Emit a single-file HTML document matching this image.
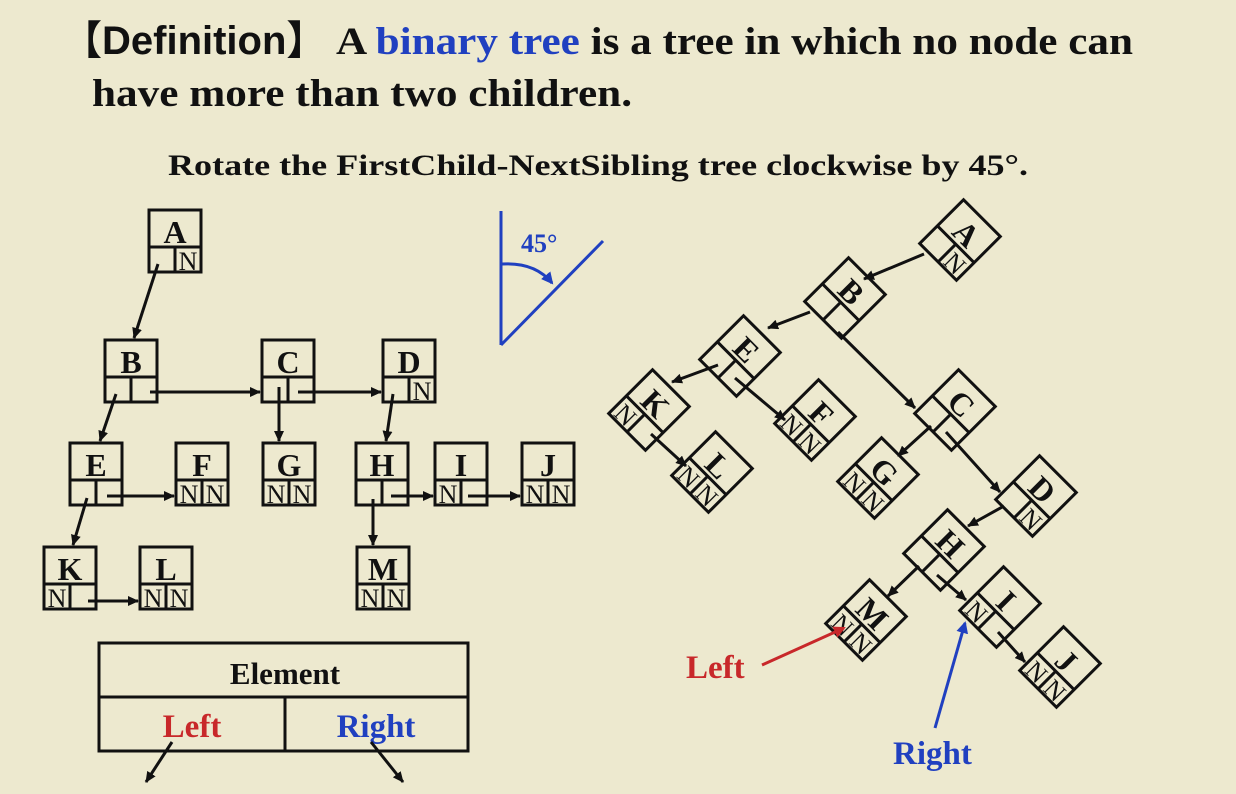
<!DOCTYPE html>
<html><head><meta charset="utf-8"><style>
html,body{margin:0;padding:0;background:#EDE9CF;}
svg{display:block;font-family:"Liberation Serif","Times New Roman",Times,serif;}
</style></head><body>
<svg width="1236" height="794" viewBox="0 0 1236 794" xmlns="http://www.w3.org/2000/svg" font-family="Liberation Serif, Times New Roman, serif">
<defs>
<marker id="ah" markerWidth="11" markerHeight="10" refX="10" refY="5" orient="auto" markerUnits="userSpaceOnUse" viewBox="0 0 11 10"><path d="M0,0 L11,5 L0,10 Z" fill="#111"/></marker>
<marker id="ahr" markerWidth="12" markerHeight="12" refX="10" refY="6" orient="auto" markerUnits="userSpaceOnUse" viewBox="0 0 12 12"><path d="M0,0 L12,6 L0,12 Z" fill="#C8282A"/></marker>
<marker id="ahb" markerWidth="12" markerHeight="12" refX="10" refY="6" orient="auto" markerUnits="userSpaceOnUse" viewBox="0 0 12 12"><path d="M0,0 L12,6 L0,12 Z" fill="#2040C0"/></marker>
<g id="nd"><rect x="0" y="0" width="52" height="62" fill="none" stroke="#111" stroke-width="3"/><line x1="0" y1="37" x2="52" y2="37" stroke="#111" stroke-width="3"/><line x1="26" y1="37" x2="26" y2="62" stroke="#111" stroke-width="3"/></g>
</defs>
<rect width="1236" height="794" fill="#EDE9CF"/>
<!-- Title -->
<text x="62" y="54" font-size="40" font-weight="bold" fill="#111"><tspan font-family="Noto Sans CJK SC,sans-serif">【</tspan><tspan font-family="Liberation Sans,Arial,sans-serif">Definition</tspan><tspan font-family="Noto Sans CJK SC,sans-serif">】</tspan></text>
<text x="336" y="54" font-size="39" font-weight="bold" fill="#111" textLength="797" lengthAdjust="spacingAndGlyphs">A <tspan fill="#2040C0">binary tree</tspan> is a tree in which no node can</text>
<text x="92" y="106" font-size="39" font-weight="bold" fill="#111" textLength="540" lengthAdjust="spacingAndGlyphs">have more than two children.</text>
<text x="168" y="175" font-size="30" font-weight="bold" fill="#111" textLength="860" lengthAdjust="spacingAndGlyphs">Rotate the FirstChild-NextSibling tree clockwise by 45°.</text>
<!-- 45 deg -->
<g stroke="#2040C0" stroke-width="3" fill="none">
<line x1="501" y1="211" x2="501" y2="345"/>
<line x1="501" y1="345" x2="603" y2="241"/>
<path d="M502,264 Q535,262 552,283" marker-end="url(#ahb)"/>
</g>
<text x="521" y="252" font-size="26" font-weight="bold" fill="#2040C0">45°</text>
<!-- Left tree nodes -->
<g font-size="32" font-weight="bold" text-anchor="middle" fill="#111">
<g transform="translate(149,210)"><use href="#nd"/><text x="26" y="33">A</text><text x="39" y="60" font-size="26" font-weight="normal">N</text></g>
<g transform="translate(105,340)"><use href="#nd"/><text x="26" y="33">B</text></g>
<g transform="translate(262,340)"><use href="#nd"/><text x="26" y="33">C</text></g>
<g transform="translate(383,340)"><use href="#nd"/><text x="26" y="33">D</text><text x="39" y="60" font-size="26" font-weight="normal">N</text></g>
<g transform="translate(70,443)"><use href="#nd"/><text x="26" y="33">E</text></g>
<g transform="translate(176,443)"><use href="#nd"/><text x="26" y="33">F</text><text x="13" y="60" font-size="26" font-weight="normal">N</text><text x="39" y="60" font-size="26" font-weight="normal">N</text></g>
<g transform="translate(263,443)"><use href="#nd"/><text x="26" y="33">G</text><text x="13" y="60" font-size="26" font-weight="normal">N</text><text x="39" y="60" font-size="26" font-weight="normal">N</text></g>
<g transform="translate(356,443)"><use href="#nd"/><text x="26" y="33">H</text></g>
<g transform="translate(435,443)"><use href="#nd"/><text x="26" y="33">I</text><text x="13" y="60" font-size="26" font-weight="normal">N</text></g>
<g transform="translate(522,443)"><use href="#nd"/><text x="26" y="33">J</text><text x="13" y="60" font-size="26" font-weight="normal">N</text><text x="39" y="60" font-size="26" font-weight="normal">N</text></g>
<g transform="translate(44,547)"><use href="#nd"/><text x="26" y="33">K</text><text x="13" y="60" font-size="26" font-weight="normal">N</text></g>
<g transform="translate(140,547)"><use href="#nd"/><text x="26" y="33">L</text><text x="13" y="60" font-size="26" font-weight="normal">N</text><text x="39" y="60" font-size="26" font-weight="normal">N</text></g>
<g transform="translate(357,547)"><use href="#nd"/><text x="26" y="33">M</text><text x="13" y="60" font-size="26" font-weight="normal">N</text><text x="39" y="60" font-size="26" font-weight="normal">N</text></g>
</g>
<g stroke="#111" stroke-width="3" marker-end="url(#ah)">
<line x1="158" y1="264" x2="134" y2="338"/>
<line x1="116" y1="394" x2="100" y2="441"/>
<line x1="150" y1="392" x2="260" y2="392"/>
<line x1="279" y1="387" x2="279" y2="441"/>
<line x1="298" y1="392" x2="381" y2="392"/>
<line x1="393" y1="394" x2="386" y2="441"/>
<line x1="87" y1="498" x2="73" y2="545"/>
<line x1="107" y1="496" x2="174" y2="496"/>
<line x1="373" y1="499" x2="373" y2="545"/>
<line x1="391" y1="496" x2="433" y2="496"/>
<line x1="468" y1="496" x2="520" y2="496"/>
<line x1="88" y1="601" x2="138" y2="601"/>
</g>
<!-- Element table -->
<g stroke="#111" stroke-width="3" fill="none">
<rect x="99" y="643" width="369" height="108"/>
<line x1="99" y1="697" x2="468" y2="697"/>
<line x1="285" y1="697" x2="285" y2="751"/>
</g>
<text x="285" y="684" font-size="31" font-weight="bold" text-anchor="middle" fill="#111">Element</text>
<text x="192" y="737" font-size="33" font-weight="bold" text-anchor="middle" fill="#C8282A">Left</text>
<text x="376" y="737" font-size="33" font-weight="bold" text-anchor="middle" fill="#2040C0">Right</text>
<g stroke="#111" stroke-width="3" marker-end="url(#ah)">
<line x1="172" y1="742" x2="146" y2="782"/>
<line x1="371" y1="742" x2="403" y2="782"/>
</g>
<!-- Right tree -->
<g font-size="32" font-weight="bold" text-anchor="middle" fill="#111">
<g transform="translate(960,240) rotate(45) translate(-26,-31)"><use href="#nd"/><text x="26" y="33">A</text><text x="39" y="60" font-size="26" font-weight="normal">N</text></g>
<g transform="translate(845,298) rotate(45) translate(-26,-31)"><use href="#nd"/><text x="26" y="33">B</text></g>
<g transform="translate(740,356) rotate(45) translate(-26,-31)"><use href="#nd"/><text x="26" y="33">E</text></g>
<g transform="translate(649,410) rotate(45) translate(-26,-31)"><use href="#nd"/><text x="26" y="33">K</text><text x="13" y="60" font-size="26" font-weight="normal">N</text></g>
<g transform="translate(815,420) rotate(45) translate(-26,-31)"><use href="#nd"/><text x="26" y="33">F</text><text x="13" y="60" font-size="26" font-weight="normal">N</text><text x="39" y="60" font-size="26" font-weight="normal">N</text></g>
<g transform="translate(712,472) rotate(45) translate(-26,-31)"><use href="#nd"/><text x="26" y="33">L</text><text x="13" y="60" font-size="26" font-weight="normal">N</text><text x="39" y="60" font-size="26" font-weight="normal">N</text></g>
<g transform="translate(955,410) rotate(45) translate(-26,-31)"><use href="#nd"/><text x="26" y="33">C</text></g>
<g transform="translate(878,478) rotate(45) translate(-26,-31)"><use href="#nd"/><text x="26" y="33">G</text><text x="13" y="60" font-size="26" font-weight="normal">N</text><text x="39" y="60" font-size="26" font-weight="normal">N</text></g>
<g transform="translate(1036,496) rotate(45) translate(-26,-31)"><use href="#nd"/><text x="26" y="33">D</text><text x="39" y="60" font-size="26" font-weight="normal">N</text></g>
<g transform="translate(944,550) rotate(45) translate(-26,-31)"><use href="#nd"/><text x="26" y="33">H</text></g>
<g transform="translate(866,620) rotate(45) translate(-26,-31)"><use href="#nd"/><text x="26" y="33">M</text><text x="13" y="60" font-size="26" font-weight="normal">N</text><text x="39" y="60" font-size="26" font-weight="normal">N</text></g>
<g transform="translate(1000,607) rotate(45) translate(-26,-31)"><use href="#nd"/><text x="26" y="33">I</text><text x="13" y="60" font-size="26" font-weight="normal">N</text></g>
<g transform="translate(1060,667) rotate(45) translate(-26,-31)"><use href="#nd"/><text x="26" y="33">J</text><text x="13" y="60" font-size="26" font-weight="normal">N</text><text x="39" y="60" font-size="26" font-weight="normal">N</text></g>
</g>
<g stroke="#111" stroke-width="3" marker-end="url(#ah)">
<line x1="924" y1="254" x2="864" y2="279"/>
<line x1="810" y1="312" x2="768" y2="328"/>
<line x1="838" y1="332" x2="915" y2="408"/>
<line x1="718" y1="365" x2="672" y2="382"/>
<line x1="735" y1="378" x2="785" y2="420"/>
<line x1="651" y1="434" x2="686" y2="466"/>
<line x1="931" y1="426" x2="898" y2="456"/>
<line x1="946" y1="432" x2="1000" y2="492"/>
<line x1="1004" y1="506" x2="968" y2="526"/>
<line x1="919" y1="566" x2="888" y2="596"/>
<line x1="937" y1="575" x2="966" y2="600"/>
<line x1="998" y1="632" x2="1025" y2="662"/>
</g>
<!-- Left / Right annotations -->
<text x="686" y="678" font-size="33" font-weight="bold" fill="#C8282A">Left</text>
<line x1="762" y1="665" x2="844" y2="628" stroke="#C8282A" stroke-width="3" marker-end="url(#ahr)"/>
<text x="893" y="764" font-size="33" font-weight="bold" fill="#2040C0">Right</text>
<line x1="935" y1="728" x2="965" y2="623" stroke="#2040C0" stroke-width="3" marker-end="url(#ahb)"/>
</svg>
</body></html>
